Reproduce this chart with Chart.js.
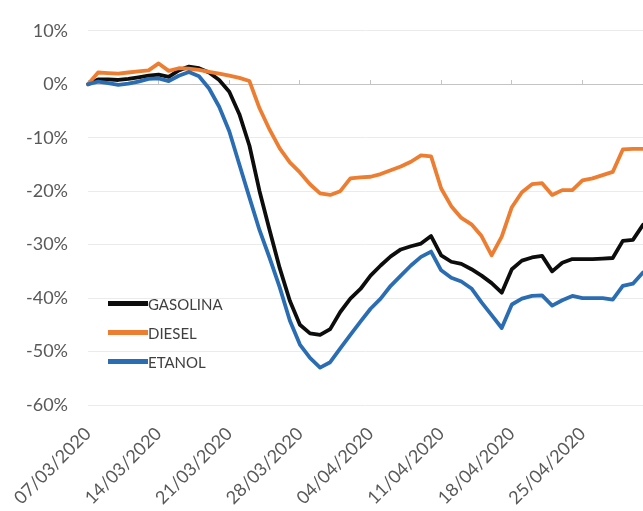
<!DOCTYPE html>
<html>
<head>
<meta charset="utf-8">
<script src="https://cdn.jsdelivr.net/npm/chart.js@4/dist/chart.umd.min.js"></script>
<style>
    html, body { margin: 0; padding: 0; background: #fff; }
    #wrap { position: relative; width: 643px; height: 511px; }
    #legend { position: absolute; left: 108px; top: 289px; font: 15px Lato, sans-serif; color: #404040; }
    #legend .item { display: flex; align-items: center; height: 29px; }
    #legend .swatch { width: 40px; height: 5px; }
</style>
</head>
<body>
<div id="wrap">
    <canvas id="chart" width="643" height="511"></canvas>
    <div id="legend"></div>
</div>
<script>
const dates = [
    '07/03/2020', '08/03/2020', '09/03/2020', '10/03/2020', '11/03/2020', '12/03/2020', '13/03/2020',
    '14/03/2020', '15/03/2020', '16/03/2020', '17/03/2020', '18/03/2020', '19/03/2020', '20/03/2020',
    '21/03/2020', '22/03/2020', '23/03/2020', '24/03/2020', '25/03/2020', '26/03/2020', '27/03/2020',
    '28/03/2020', '29/03/2020', '30/03/2020', '31/03/2020', '01/04/2020', '02/04/2020', '03/04/2020',
    '04/04/2020', '05/04/2020', '06/04/2020', '07/04/2020', '08/04/2020', '09/04/2020', '10/04/2020',
    '11/04/2020', '12/04/2020', '13/04/2020', '14/04/2020', '15/04/2020', '16/04/2020', '17/04/2020',
    '18/04/2020', '19/04/2020', '20/04/2020', '21/04/2020', '22/04/2020', '23/04/2020', '24/04/2020',
    '25/04/2020', '26/04/2020', '27/04/2020', '28/04/2020', '29/04/2020', '30/04/2020', '01/05/2020',
];

// variação (%) por dia
const gasolina = [
    0, 0.9, 0.9, 0.8, 1.0, 1.3, 1.6, 1.8, 1.4, 2.6,
    3.3, 3.0, 2.2, 0.8, -1.4, -5.6, -11.5, -20, -27.3, -34.4,
    -40.5, -45, -46.6, -46.9, -45.8, -42.6, -40.1, -38.3, -35.8, -33.9,
    -32.2, -30.9, -30.3, -29.8, -28.4, -32.0, -33.2, -33.6, -34.6, -35.8,
    -37.2, -39.0, -34.6, -33.0, -32.4, -32.1, -35.0, -33.4, -32.7, -32.7,
    -32.7, -32.6, -32.5, -29.3, -29.1, -26.3,
];
const diesel = [
    0, 2.2, 2.1, 2.0, 2.2, 2.4, 2.6, 3.9, 2.5, 3.0,
    2.9, 2.7, 2.3, 2.0, 1.6, 1.2, 0.6, -4.5, -8.5, -12,
    -14.6, -16.5, -18.7, -20.4, -20.7, -20, -17.6, -17.4, -17.3, -16.8,
    -16.1, -15.4, -14.5, -13.3, -13.5, -19.5, -22.8, -25, -26.2, -28.4,
    -32, -28.5, -23, -20.2, -18.7, -18.5, -20.7, -19.8, -19.8, -18,
    -17.6, -17, -16.4, -12.2, -12.1, -12.1,
];
const etanol = [
    0, 0.5, 0.2, -0.1, 0.1, 0.5, 1.0, 1.1, 0.6, 1.6,
    2.3, 1.5, -0.8, -4.2, -8.8, -15, -21.2, -27.3, -32.5, -38,
    -44.2, -48.7, -51.2, -53, -52, -49.4, -46.9, -44.4, -42, -40.1,
    -37.7, -35.8, -33.9, -32.3, -31.3, -34.8, -36.2, -36.9, -38.2, -40.8,
    -43.2, -45.6, -41.2, -40.1, -39.6, -39.5, -41.4, -40.4, -39.6, -40,
    -40, -40, -40.3, -37.7, -37.3, -35.2,
];

const yTicks = [10, 0, -10, -20, -30, -40, -50, -60];

const series = [
    { label: 'GASOLINA', data: gasolina, color: '#0d0d0d', order: 3 },
    { label: 'DIESEL', data: diesel, color: '#ED7D31', order: 2 },
    { label: 'ETANOL', data: etanol, color: '#2A6DB3', order: 1 },
];

const axisText = '#595959';
const gridColor = '#ebebeb';
const zeroColor = '#c4c4c4';

new Chart(document.getElementById('chart'), {
    type: 'line',
    data: {
        labels: dates,
        datasets: series.map((s) => ({
            label: s.label,
            data: s.data,
            borderColor: s.color,
            backgroundColor: s.color,
            borderWidth: 3.8,
            pointRadius: 0,
            tension: 0,
            borderJoinStyle: 'round',
            borderCapStyle: 'round',
            order: s.order,
            xAxisID: 'x',
            yAxisID: 'y',
        })),
    },
    options: {
        responsive: false,
        animation: false,
        layout: { padding: { top: 27, right: 0, bottom: 0, left: 0 } },
        plugins: { legend: { display: false }, tooltip: { enabled: false } },
        scales: {
            x: {
                type: 'category',
                position: 'bottom',
                grid: { display: false, drawTicks: false },
                border: { display: false },
                ticks: {
                    autoSkip: false,
                    minRotation: 45,
                    maxRotation: 45,
                    padding: 18,
                    color: axisText,
                    font: { family: 'Lato', size: 18 },
                    callback: (v, i) => (i % 7 === 0 ? dates[i] : ''),
                },
                afterFit: (scale) => {
                    scale.height = 106;
                    scale.paddingLeft = 0;
                    scale.paddingRight = 0;
                },
            },
            x0: {
                type: 'category',
                axis: 'x',
                position: { y: 0 },
                grid: {
                    drawOnChartArea: false,
                    drawTicks: true,
                    tickLength: -5,
                    color: (ctx) => (ctx.index % 7 === 0 ? zeroColor : 'rgba(0,0,0,0)'),
                },
                border: { display: true, color: zeroColor, width: 1 },
                ticks: { display: false },
            },
            y: {
                min: -60,
                max: 10,
                afterBuildTicks: (scale) => { scale.ticks = yTicks.map((v) => ({ value: v })); },
                grid: {
                    drawTicks: false,
                    color: (ctx) => (ctx.tick && ctx.tick.value === 0 ? zeroColor : gridColor),
                },
                border: { display: false },
                ticks: {
                    padding: 20,
                    color: axisText,
                    font: { family: 'Lato', size: 18 },
                    callback: (v) => v + '%',
                },
                afterFit: (scale) => { scale.width = 88; },
            },
        },
    },
});

const legend = document.getElementById('legend');
series.forEach((s) => {
    const row = document.createElement('div');
    row.className = 'item';
    const sw = document.createElement('span');
    sw.className = 'swatch';
    sw.style.background = s.color;
    const txt = document.createElement('span');
    txt.textContent = s.label;
    row.appendChild(sw);
    row.appendChild(txt);
    legend.appendChild(row);
});
</script>
</body>
</html>
